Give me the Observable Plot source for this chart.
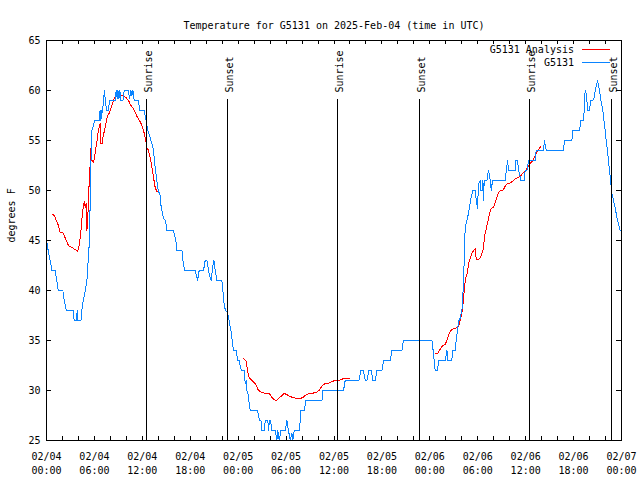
<!DOCTYPE html>
<html>
<head>
<meta charset="utf-8">
<script src="https://cdn.jsdelivr.net/npm/d3@7"></script>
<script src="https://cdn.jsdelivr.net/npm/@observablehq/plot@0.6"></script>
<style>
html, body { margin: 0; padding: 0; background: #fff; }
</style>
</head>
<body>
<div id="chart"></div>
<script>
// ---------- text ----------
const title = "Temperature for G5131 on 2025-Feb-04 (time in UTC)";
const yLabel = "degrees F";
const seriesNames = ["G5131 Analysis", "G5131"];
const seriesColors = ["#ff0000", "#0a84ff"];

// ---------- time axis (hours since 2025-02-04 00:00 UTC) ----------
const startUTC = Date.UTC(2025, 1, 4);
const majorTickHours = [0, 6, 12, 18, 24, 30, 36, 42, 48, 54, 60, 66, 72];
const majorTickLabels = [
  "02/04\n00:00", "02/04\n06:00", "02/04\n12:00", "02/04\n18:00",
  "02/05\n00:00", "02/05\n06:00", "02/05\n12:00", "02/05\n18:00",
  "02/06\n00:00", "02/06\n06:00", "02/06\n12:00", "02/06\n18:00",
  "02/07\n00:00"
];
const minorTickHours = [0,2,4,6,8,10,12,14,16,18,20,22,24,26,28,30,32,34,36,38,40,42,44,46,48,50,52,54,56,58,60,62,64,66,68,70,72];
const yTicks = [25, 30, 35, 40, 45, 50, 55, 60, 65];
const yDomain = [25, 65];

// ---------- sunrise / sunset ----------
const sunEventHours = [12.55, 22.66, 36.44, 46.71, 60.48, 70.75];
const sunEventLabels = ["Sunrise", "Sunset", "Sunrise", "Sunset", "Sunrise", "Sunset"];
const sunLineTop = 59.1;
const sunLabelBase = 59.8;

// ---------- observations G5131 ----------
const obsHours = [
  0.00,0.21,0.46,0.68,1.09,1.28,1.47,2.05,2.22,2.47,3.34,3.47,3.76,3.84,3.93,4.31,4.43,4.60,4.85,5.06,
  5.22,5.38,5.56,5.69,5.89,6.01,6.60,6.64,6.72,6.81,6.89,6.94,7.06,7.14,7.26,7.39,7.56,7.76,7.89,8.60,
  8.73,8.85,8.94,9.07,9.19,9.32,9.57,9.73,10.27,10.39,10.57,10.69,10.82,10.98,11.52,11.65,12.23,12.36,12.48,12.57,
  12.70,12.90,13.07,13.27,13.40,13.52,13.65,13.82,13.99,14.24,14.36,14.53,14.65,14.90,15.08,15.90,16.03,16.20,16.33,16.96,
  17.08,17.28,18.62,18.91,19.12,19.66,19.87,20.09,20.29,20.41,20.62,20.84,20.96,21.12,21.34,21.96,22.09,22.16,22.29,22.46,
  22.66,22.79,22.92,23.09,23.25,23.42,23.75,23.84,23.97,24.17,24.26,24.47,24.76,24.88,25.01,25.09,25.22,25.29,25.51,26.42,
  26.67,26.85,26.97,27.26,27.39,27.72,27.80,27.92,28.05,28.23,28.64,28.85,28.97,29.14,29.35,29.89,30.10,30.30,30.52,30.73,
  30.85,31.02,31.68,31.86,32.27,32.48,34.49,34.61,37.19,37.40,39.12,39.37,39.69,39.91,40.12,40.37,40.66,40.87,41.16,41.37,
  42.00,42.20,43.04,43.25,44.50,44.70,48.26,48.46,48.67,48.96,49.09,49.92,50.14,50.24,50.76,50.84,51.18,51.30,51.47,51.59,
  51.72,52.02,52.22,52.34,52.43,52.64,52.84,52.97,53.14,53.39,53.68,53.81,53.97,54.10,54.31,54.40,54.56,54.65,54.72,54.81,
  55.15,55.22,55.35,55.56,55.69,55.85,57.44,57.57,57.73,57.86,58.69,58.78,58.98,59.11,59.23,59.41,59.82,59.94,60.16,60.36,
  61.19,61.32,62.23,62.36,62.48,62.66,64.74,64.86,65.79,65.91,66.74,66.92,67.24,67.33,67.45,67.58,67.67,67.74,67.96,68.17,
  68.42,68.58,68.71,69.00,69.25,69.42,69.67,69.80,69.96,70.08,70.25,70.37,70.50,70.67,70.80,71.00,71.21,71.42,71.62,71.83
];
const obsTemps = [
  45,44,43,42,42,41,40,40,39,38,38,37,37,38,37,37,38,39,40,41,
  43,45,52.7,56,56.5,57,57,57.7,58,57,58,57.7,58.3,59,60,58.7,58,58,59,59,
  60,59.2,60,59.2,60,59,59,60,60,59.2,60,59.5,60,59,59,58,58,57.5,57,56.5,
  56,55.5,55,54.5,54,53,52,51,50,49.5,48.3,47.7,47.2,47,46,46,45.5,45,44,44,
  43,42,42,41,42,42,43,43,42,41.5,41,42.5,43,42,41,41,40,39.3,38.3,38,
  37.8,37.3,36.7,36,35,34,34,33.5,33,33,32.3,32,32,30.7,31,30,29.7,29.3,28,28,
  27,27,26,26,27,27,26,27,27,26,26,25,26,25,26,26,27,26,25,25.7,
  25,26,26,28,28,29,29,30,30,31,31,32,32,31,31,32,32,31,31,32,
  32,33,33,34,34,35,35,33.7,32,32,33,33,34,33,33,34,34,35,36,37,
  37,38,40.7,44.3,46.3,47,47.7,48.3,49.2,50,50,49,48.2,50.7,51,50,50,51,49,51,
  51,51.5,52,51,50,51,51,52,53,52,52,53,53,52,51.7,51,51,52,52,53,
  53,54,54,55,54.3,54,54,55,55,56,56,57,57,58,60,59.7,59,58,58,59,
  59,59.3,60,61,60,59,58,57,56,55,54,53,52,50.7,49.7,49,48.3,47.3,46.7,46
];

// ---------- G5131 Analysis (null = gap) ----------
const anaHours = [
  0.75,1.00,1.21,1.50,1.72,2.05,2.22,2.47,2.75,3.18,3.59,3.88,4.09,4.22,4.35,4.51,4.72,4.85,4.97,5.06,
  5.18,5.26,5.38,5.47,5.56,5.69,5.89,6.01,6.19,6.31,6.44,6.60,6.72,6.81,6.97,7.06,7.26,7.44,7.56,7.69,
  7.89,8.10,8.31,8.52,8.73,8.89,9.14,9.35,9.64,9.94,10.27,10.57,10.89,11.11,11.39,11.65,11.95,12.15,12.36,12.57,
  12.77,12.99,13.20,13.40,13.61,13.82,14.03,
  18.00,
  24.67,24.97,25.17,25.38,25.72,26.13,26.55,26.97,27.60,27.92,28.22,28.51,28.76,29.05,29.48,29.76,30.10,30.43,30.93,31.35,
  31.77,32.11,32.39,32.81,33.23,33.65,34.06,34.27,34.56,34.90,35.31,35.74,36.15,36.78,37.19,37.94,
  42.00,
  48.67,48.96,49.21,49.42,49.64,49.92,50.14,50.34,50.55,50.76,51.09,51.39,51.59,51.72,51.89,52.02,52.14,52.27,52.39,52.52,
  52.72,52.84,53.06,53.27,53.47,53.68,53.81,54.10,54.31,54.52,54.72,54.85,55.02,55.15,55.35,55.47,55.69,55.97,56.19,56.40,
  56.60,56.81,57.15,57.35,57.57,57.85,58.15,58.48,58.78,59.11,59.41,59.73,60.07,60.36,60.57,60.91,61.19,61.41,61.70,61.91
];
const anaTemps = [
  47.6,47.5,47,46.5,45.8,45.8,45.5,45,44.5,44.3,44.1,43.9,44.5,45.3,46.3,47.8,48.9,48.3,48.7,46,
  47.3,49.7,51,52.7,54.2,53,52.8,53.3,54.3,54.8,55.7,56.3,56.7,54.7,54.7,55.3,56,56.7,57.2,57.5,
  57.8,58.3,58.8,59.3,59.5,59.7,59.7,59.5,59.5,59.3,59,58.5,58.2,57.8,57.3,57,56.5,56,55.3,54.3,
  54,53.3,52.3,51.3,50.3,49.9,49.9,
  null,
  33.2,33,32,31.3,31,30.7,30,29.8,29.7,29.7,29.3,29.1,29,29.2,29.5,29.7,29.6,29.4,29.3,29.2,
  29.2,29.3,29.5,29.7,29.7,29.8,29.9,30.2,30.5,30.7,30.7,30.9,31,31.05,31.2,31.2,
  null,
  33.7,33.7,34,34.3,34.5,34.6,35,35.5,35.9,36.1,36.2,36.3,36.4,36.8,37.3,37.8,38.5,39.7,40.7,41.3,
  41.8,42.7,43.2,43.7,44,44.2,43.1,43.1,43.3,43.7,44.2,45.5,46,46.5,47.2,47.7,48.2,48.3,48.8,49.3,
  49.8,50,50,50.3,50.6,50.7,50.8,51,51.2,51.3,51.5,51.8,52.1,52.5,52.7,53,53.5,53.8,54.2,54.4
];

// ---------- build ----------
const toDate = h => new Date(startUTC + h * 3600e3);
const obs = obsHours.map((h, i) => ({t: toDate(h), v: obsTemps[i]}));
const ana = anaHours.map((h, i) => ({t: toDate(h), v: anaTemps[i]}));
const sunEvents = sunEventHours.map((h, i) => ({t: toDate(h), label: sunEventLabels[i]}));
const majorDates = majorTickHours.map(toDate);
const minorDates = minorTickHours.map(toDate);
const labelOf = new Map(majorTickHours.map((h, i) => [+toDate(h), majorTickLabels[i]]));

const FONT = "DejaVu Sans Mono";
const W = 640, H = 480, ML = 46, MR = 19, MT = 40, MB = 40;
const frameW = W - ML - MR, frameH = H - MT - MB;

const chart = Plot.plot({
  width: W, height: H,
  marginLeft: ML, marginRight: MR, marginTop: MT, marginBottom: MB,
  style: {fontFamily: FONT, fontSize: "10px", background: "white", color: "black"},
  x: {type: "utc", domain: [toDate(0), toDate(72)]},
  y: {domain: yDomain},
  marks: [
    Plot.line(ana, {x: "t", y: "v", stroke: seriesColors[0], strokeWidth: 1, shapeRendering: "crispEdges"}),
    Plot.line(obs, {x: "t", y: "v", stroke: seriesColors[1], strokeWidth: 1, shapeRendering: "crispEdges"}),
    Plot.ruleX(sunEvents, {x: "t", y1: yDomain[0], y2: sunLineTop, stroke: "black", strokeWidth: 1, shapeRendering: "crispEdges"}),
    Plot.text(sunEvents, {x: "t", y: sunLabelBase, text: "label", rotate: -90, textAnchor: "start", dx: 2, fill: "black"}),
    // tick marks (inward, mirrored)
    Plot.tickX(minorDates, {x: d => d, insetTop: frameH - 4, stroke: "black", shapeRendering: "crispEdges"}),
    Plot.tickX(minorDates, {x: d => d, insetBottom: frameH - 4, stroke: "black", shapeRendering: "crispEdges"}),
    Plot.tickY(yTicks, {y: d => d, insetRight: frameW - 5, stroke: "black", shapeRendering: "crispEdges"}),
    Plot.tickY(yTicks, {y: d => d, insetLeft: frameW - 5, stroke: "black", shapeRendering: "crispEdges"}),
    // tick labels
    Plot.axisX(majorDates, {anchor: "bottom", tickSize: 0, tickPadding: 10, label: null,
      tickFormat: d => labelOf.get(+d), lineHeight: 1.37, fill: "black"}),
    Plot.axisY(yTicks, {anchor: "left", tickSize: 0, tickPadding: 6, label: null, fill: "black"}),
    Plot.frame({stroke: "black", strokeWidth: 1, shapeRendering: "crispEdges"}),
    Plot.text([title], {frameAnchor: "top", dy: -19, fill: "black"}),
    Plot.text([yLabel], {frameAnchor: "left", rotate: -90, dx: -35, dy: 2, fill: "black"})
  ]
});

// legend (top-right, inside the frame)
const svg = d3.select(chart);
const lg = svg.append("g").attr("font-family", FONT).attr("font-size", 10);
seriesNames.forEach((name, i) => {
  const top = MT + i * 13;
  lg.append("text")
    .attr("x", W - MR - 47).attr("y", top + 13.3)
    .attr("text-anchor", "end").attr("fill", "black").text(name);
  lg.append("line")
    .attr("x1", W - MR - 39.5).attr("x2", W - MR - 11)
    .attr("y1", top + 9.5).attr("y2", top + 9.5)
    .attr("stroke", seriesColors[i]).attr("stroke-width", 1)
    .attr("shape-rendering", "crispEdges");
});

document.getElementById("chart").appendChild(chart);
</script>
</body>
</html>
